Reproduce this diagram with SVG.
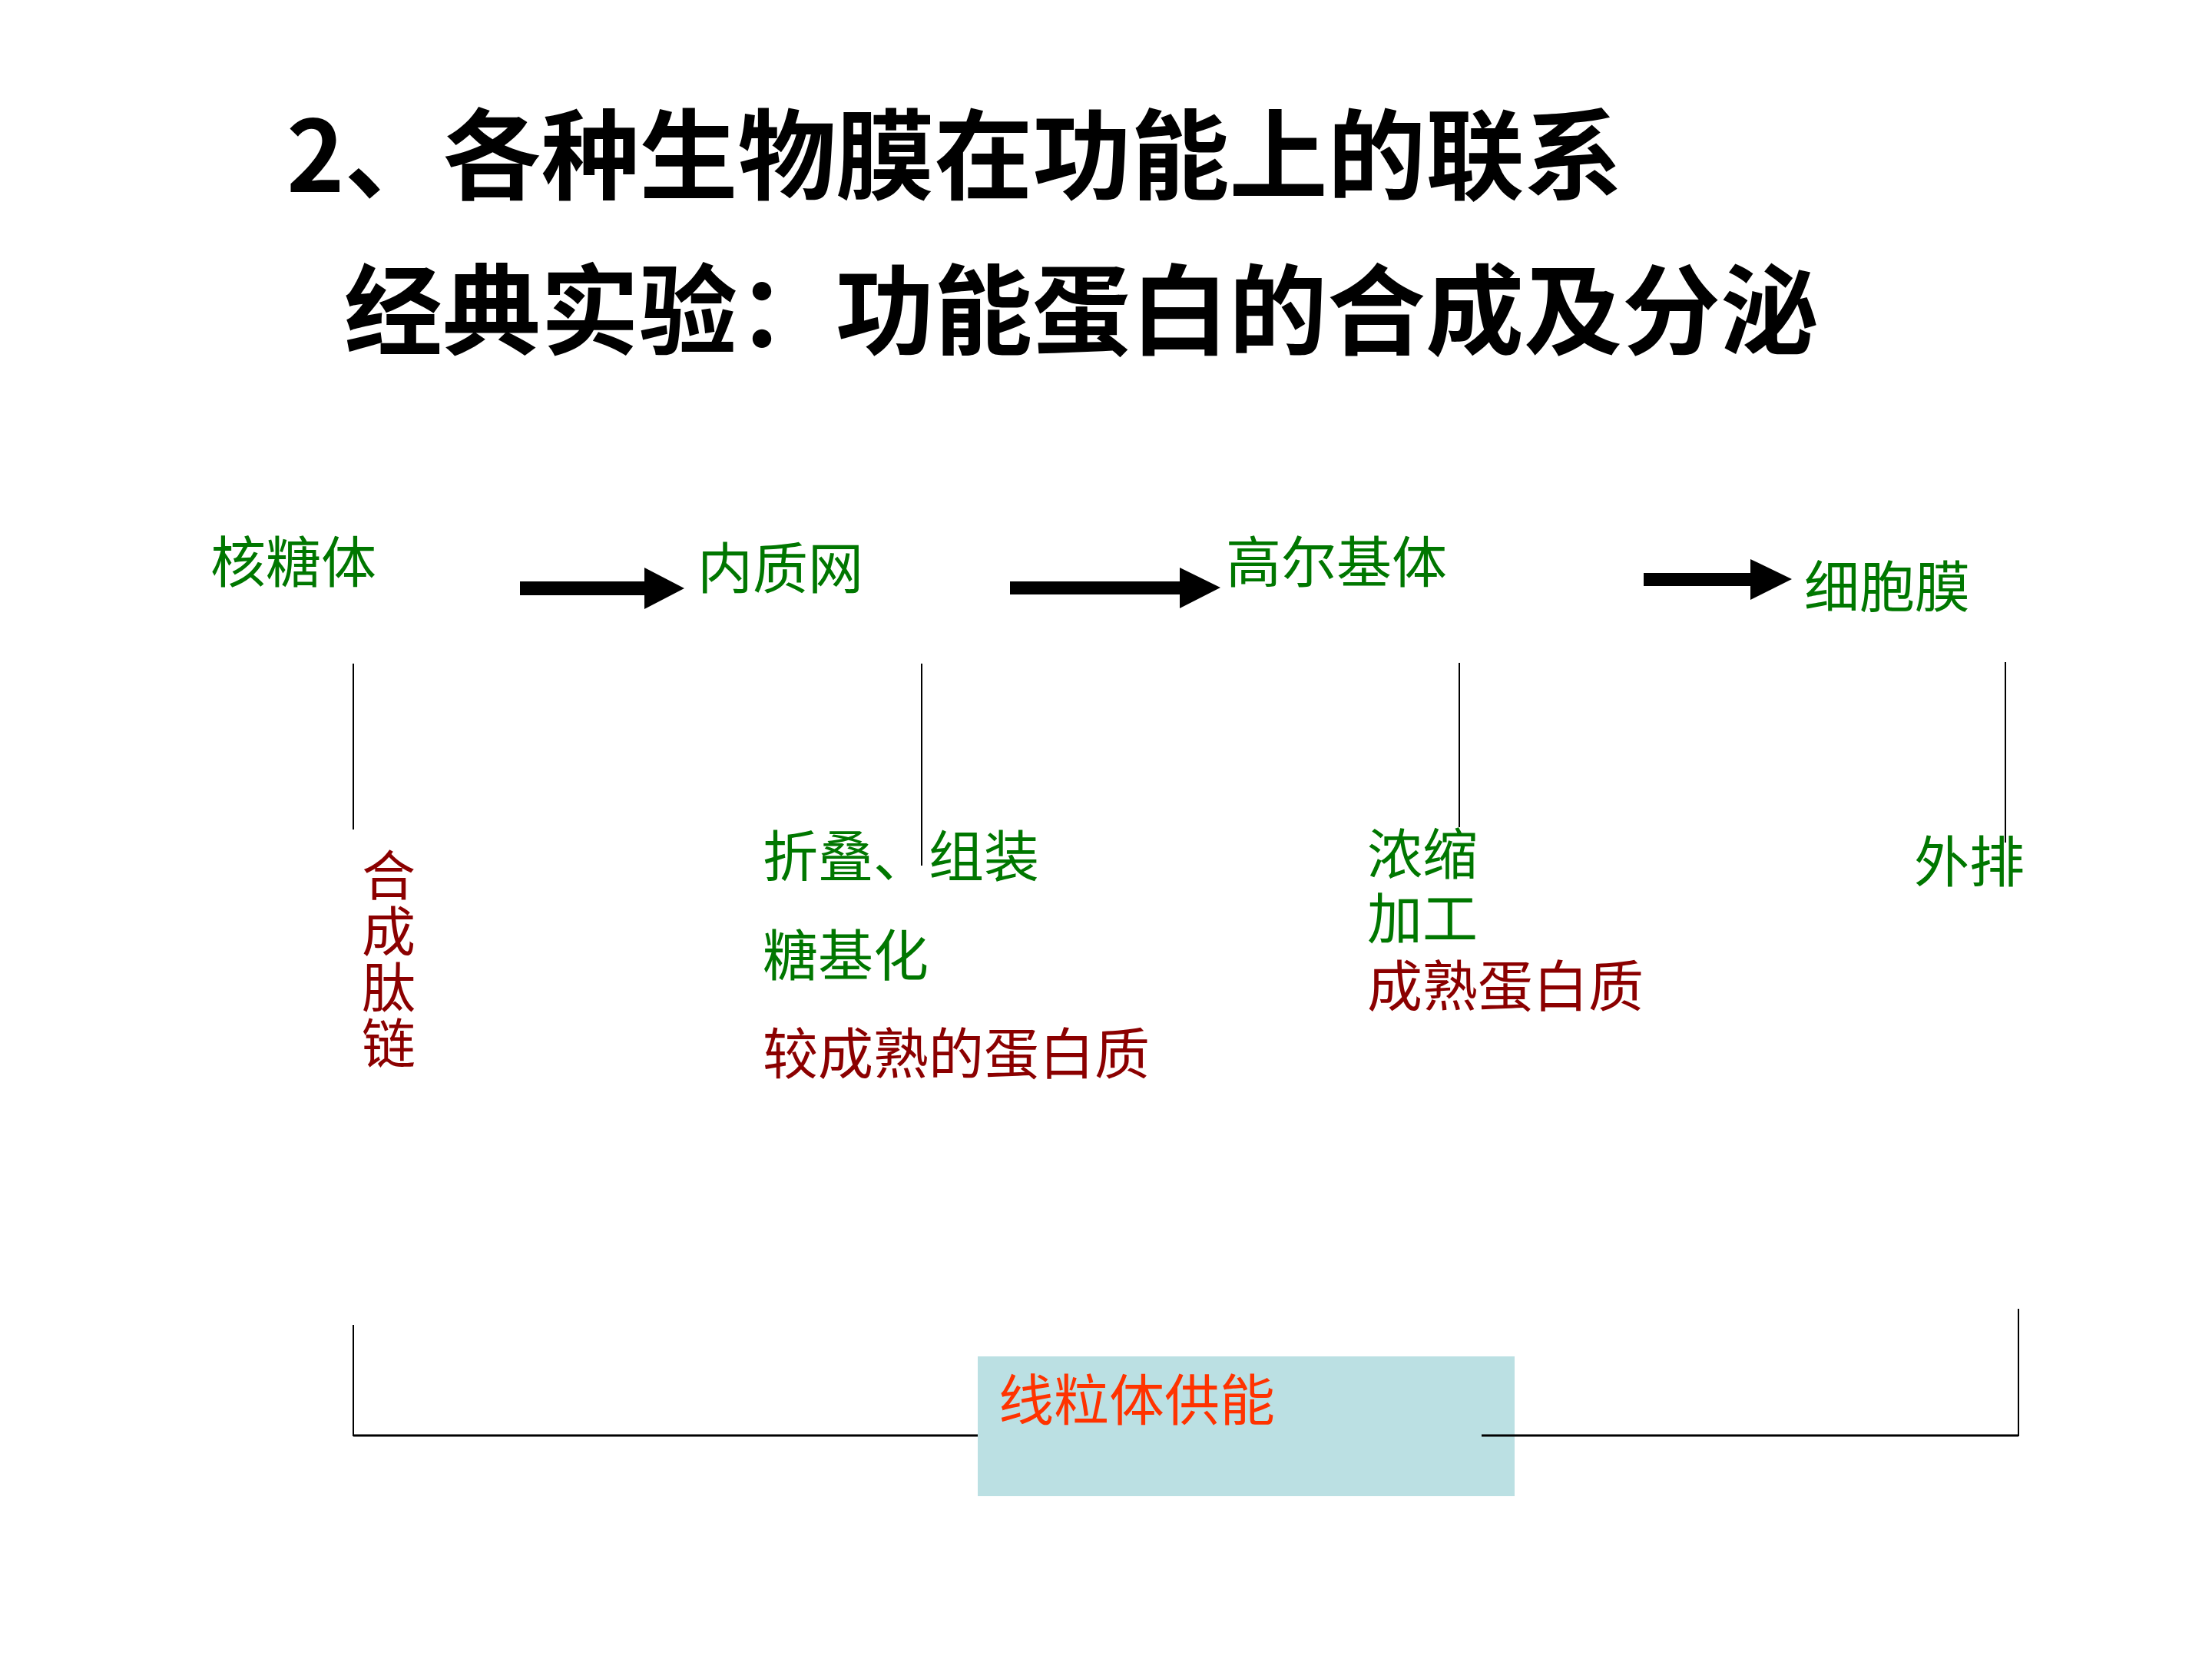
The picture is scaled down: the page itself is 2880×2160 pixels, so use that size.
<svg xmlns="http://www.w3.org/2000/svg" width="2880" height="2160" viewBox="0 0 2880 2160">
<style>
text{font-family:"Noto Sans CJK SC","Noto Sans",sans-serif}
.title{font-size:128px;fill:#000;font-weight:bold}
.lbl{font-size:72px}
.g{fill:#007700}
.r{fill:#8b0000}
.o{fill:#ff3300}
.ln{stroke:#000;stroke-width:2;fill:none}
.hl{stroke:#000;stroke-width:3;fill:none}
.arr{fill:#000}
</style>
<rect width="2880" height="2160" fill="#fff"/>
<g id="titles">
<text class="title" x="373" y="250">2、各种生物膜在功能上的联系</text>
<text class="title" x="448" y="452">经典实验：功能蛋白的合成及分泌</text>
</g>
<g id="connectors">
<polygon class="arr" points="677,757 839,757 839,739 891,766 839,793 839,775 677,775"/>
<polygon class="arr" points="1315,757 1536,757 1536,739 1589,765 1536,792 1536,774 1315,774"/>
<polygon class="arr" points="2140,746 2279,746 2279,728 2333,754 2279,781 2279,763 2140,763"/>
<line class="ln" x1="460" y1="864" x2="460" y2="1080"/>
<line class="ln" x1="1200" y1="864" x2="1200" y2="1127"/>
<line class="ln" x1="1900" y1="863" x2="1900" y2="1077"/>
<line class="ln" x1="2611" y1="862" x2="2611" y2="1097"/>
<line class="ln" x1="460" y1="1725" x2="460" y2="1870"/>
<line class="hl" x1="460" y1="1869" x2="1273" y2="1869"/>
<line class="ln" x1="2628" y1="1704" x2="2628" y2="1870"/>
</g>
<g id="node-mito">
<rect x="1273" y="1766" width="699" height="182" fill="#bbe0e3"/>
<text class="lbl o" x="1300" y="1849">线粒体供能</text>
</g>
<line class="hl" x1="1929" y1="1869" x2="2628" y2="1869"/>
<g id="node-ribosome">
<text class="lbl g" x="274" y="758">核糖体</text>
</g>
<g id="node-er">
<text class="lbl g" x="908" y="766">内质网</text>
</g>
<g id="node-golgi">
<text class="lbl g" x="1596" y="758">高尔基体</text>
</g>
<g id="node-membrane">
<text class="lbl g" x="2349" y="790">细胞膜</text>
</g>
<g id="label-peptide">
<text class="lbl r" style="font-size:70px"><tspan x="471" y="1166">合</tspan><tspan x="471" y="1239">成</tspan><tspan x="471" y="1312">肽</tspan><tspan x="471" y="1385">链</tspan></text>
</g>
<g id="label-er">
<text class="lbl g" x="993" y="1141">折叠、组装</text>
<text class="lbl g" x="993" y="1270">糖基化</text>
<text class="lbl r" x="993" y="1398">较成熟的蛋白质</text>
</g>
<g id="label-golgi">
<text class="lbl g" x="1780" y="1138">浓缩</text>
<text class="lbl g" x="1780" y="1222">加工</text>
<text class="lbl r" x="1780" y="1310">成熟蛋白质</text>
</g>
<g id="label-membrane">
<text class="lbl g" x="2492" y="1148">外排</text>
</g>
</svg>
